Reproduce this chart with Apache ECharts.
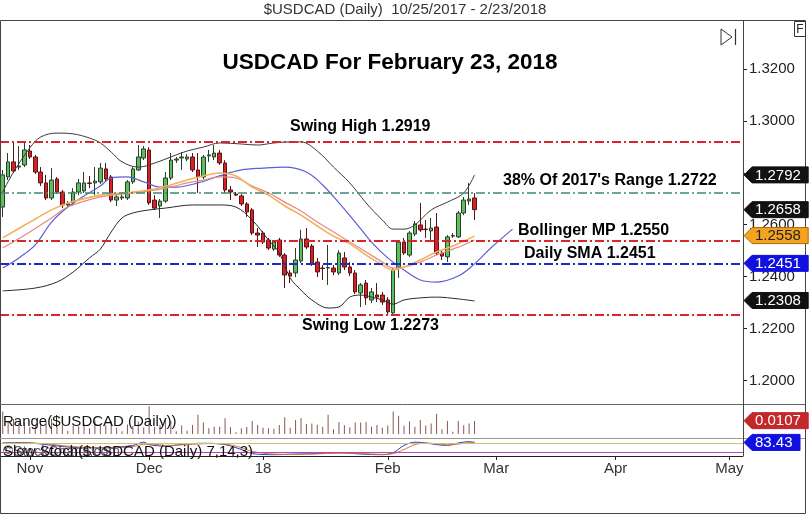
<!DOCTYPE html>
<html><head><meta charset="utf-8">
<script src="https://cdn.jsdelivr.net/npm/echarts@6/dist/echarts.min.js"></script>
<style>html,body{margin:0;padding:0;background:#fff}#c{width:810px;height:515px}</style>
</head><body><div id="c"></div>
<script>
const startDate = [2017, 9, 25];
const nCategories = 137;
const monthLabels = {'2017-11-01':'Nov','2017-12-01':'Dec','2018-01-01':'18','2018-02-01':'Feb','2018-03-01':'Mar','2018-04-02':'Apr','2018-05-01':'May'};
const priceTicks = [1.20,1.22,1.24,1.26,1.28,1.30,1.32];

// [open, close, low, high]
const candles = [
[1.2668,1.2792,1.2630,1.2811],[1.2784,1.2842,1.2772,1.2876],[1.2842,1.2807,1.2799,1.2919],[1.2822,1.2826,1.2811,1.2903],
[1.2830,1.2888,1.2822,1.2915],[1.2884,1.2861,1.2853,1.2907],[1.2861,1.2803,1.2795,1.2869],[1.2803,1.2761,1.2749,1.2822],
[1.2761,1.2703,1.2695,1.2792],[1.2703,1.2772,1.2695,1.2818],[1.2776,1.2726,1.2718,1.2784],[1.2726,1.2676,1.2664,1.2734],
[1.2676,1.2680,1.2664,1.2691],[1.2684,1.2726,1.2676,1.2741],[1.2726,1.2761,1.2714,1.2776],[1.2730,1.2761,1.2722,1.2803],
[1.2761,1.2759,1.2741,1.2788],[1.2761,1.2768,1.2714,1.2822],[1.2765,1.2818,1.2757,1.2838],[1.2815,1.2776,1.2768,1.2838],
[1.2784,1.2695,1.2687,1.2792],[1.2695,1.2707,1.2672,1.2722],[1.2703,1.2707,1.2695,1.2718],[1.2703,1.2765,1.2695,1.2772],
[1.2765,1.2815,1.2757,1.2822],[1.2811,1.2861,1.2807,1.2907],[1.2857,1.2892,1.2849,1.2903],[1.2888,1.2684,1.2676,1.2899],
[1.2695,1.2664,1.2657,1.2714],[1.2672,1.2691,1.2626,1.2699],[1.2691,1.2780,1.2684,1.2803],[1.2780,1.2849,1.2772,1.2876],
[1.2849,1.2853,1.2838,1.2861],[1.2857,1.2861,1.2811,1.2880],[1.2853,1.2861,1.2845,1.2872],[1.2861,1.2811,1.2803,1.2876],
[1.2811,1.2784,1.2722,1.2876],[1.2784,1.2861,1.2776,1.2869],[1.2865,1.2869,1.2842,1.2888],[1.2861,1.2876,1.2849,1.2907],
[1.2876,1.2838,1.2830,1.2888],[1.2838,1.2734,1.2722,1.2849],[1.2734,1.2726,1.2695,1.2749],[1.2718,1.2714,1.2711,1.2726],
[1.2711,1.2680,1.2672,1.2718],[1.2680,1.2649,1.2630,1.2687],[1.2657,1.2568,1.2560,1.2664],[1.2568,1.2560,1.2514,1.2587],
[1.2568,1.2533,1.2526,1.2576],[1.2541,1.2510,1.2502,1.2549],[1.2506,1.2533,1.2499,1.2541],[1.2541,1.2483,1.2476,1.2549],
[1.2483,1.2406,1.2356,1.2491],[1.2414,1.2402,1.2375,1.2425],[1.2414,1.2464,1.2398,1.2510],[1.2460,1.2545,1.2452,1.2580],
[1.2545,1.2514,1.2506,1.2587],[1.2518,1.2449,1.2441,1.2526],[1.2456,1.2418,1.2398,1.2472],[1.2433,1.2431,1.2387,1.2445],
[1.2433,1.2435,1.2368,1.2522],[1.2433,1.2418,1.2406,1.2445],[1.2414,1.2491,1.2406,1.2502],[1.2472,1.2437,1.2425,1.2495],
[1.2437,1.2414,1.2402,1.2456],[1.2414,1.2341,1.2333,1.2425],[1.2337,1.2368,1.2283,1.2375],[1.2375,1.2318,1.2291,1.2387],
[1.2310,1.2341,1.2298,1.2356],[1.2329,1.2321,1.2302,1.2375],[1.2329,1.2302,1.2291,1.2341],[1.2310,1.2264,1.2252,1.2321],
[1.2260,1.2425,1.2252,1.2433],[1.2433,1.2533,1.2395,1.2541],[1.2533,1.2491,1.2483,1.2549],[1.2483,1.2568,1.2476,1.2576],
[1.2564,1.2603,1.2556,1.2614],[1.2599,1.2580,1.2572,1.2684],[1.2583,1.2581,1.2549,1.2618],[1.2576,1.2587,1.2541,1.2626],
[1.2591,1.2491,1.2483,1.2645],[1.2491,1.2479,1.2464,1.2502],[1.2476,1.2553,1.2456,1.2560],[1.2556,1.2558,1.2549,1.2568],
[1.2553,1.2645,1.2549,1.2653],[1.2645,1.2695,1.2637,1.2707],[1.2691,1.2699,1.2676,1.2761],[1.2703,1.2658,1.2618,1.2722]
];

const upperBand = [[0,1.2726],[2,1.2803],[5,1.2896],[7,1.2938],[10,1.2953],[13,1.2950],[16,1.2934],[18,1.2915],[20,1.2880],[22,1.2842],[25,1.2822],[27,1.2830],[31,1.2861],[34,1.2884],[37,1.2899],[40,1.2915],[44,1.2911],[47,1.2907],[50,1.2915],[53,1.2919],[55,1.2919],[58,1.2884],[61,1.2822],[64,1.2761],[67,1.2684],[70,1.2618],[72,1.2583],[74,1.2583],[76,1.2599],[79,1.2657],[82,1.2687],[85,1.2722],[87,1.2792]];
const lowerBand = [[0,1.2345],[6,1.2356],[10,1.2379],[13,1.2418],[16,1.2472],[18,1.2506],[20,1.2572],[22,1.2626],[24,1.2645],[27,1.2657],[30,1.2664],[35,1.2676],[40,1.2676],[43,1.2668],[46,1.2618],[49,1.2541],[51,1.2491],[53,1.2395],[55,1.2348],[57,1.2310],[60,1.2279],[62,1.2283],[64,1.2321],[66,1.2329],[68,1.2321],[70,1.2310],[72,1.2294],[74,1.2310],[77,1.2318],[80,1.2321],[84,1.2314],[87,1.2306]];
const blueLine = [[0,1.2433],[3,1.2472],[6,1.2522],[9,1.2610],[12,1.2668],[15,1.2711],[18,1.2749],[20,1.2780],[23,1.2784],[26,1.2765],[29,1.2745],[32,1.2745],[36,1.2761],[40,1.2788],[44,1.2811],[48,1.2818],[52,1.2822],[56,1.2803],[59,1.2753],[62,1.2684],[65,1.2610],[68,1.2533],[71,1.2472],[74,1.2425],[77,1.2387],[80,1.2379],[84,1.2402],[87,1.2449],[90,1.2510],[94,1.2583]];
const orangeLine = [[0,1.2549],[5,1.2610],[9,1.2657],[12,1.2684],[18,1.2714],[22,1.2722],[27,1.2734],[31,1.2753],[34,1.2772],[37,1.2788],[40,1.2799],[43,1.2788],[46,1.2745],[49,1.2714],[52,1.2672],[55,1.2637],[58,1.2595],[61,1.2556],[64,1.2526],[67,1.2483],[70,1.2445],[72,1.2425],[74,1.2437],[77,1.2464],[80,1.2495],[83,1.2518],[85,1.2537],[87,1.2556]];
const pinkLine = [[0,1.2510],[5,1.2572],[9,1.2626],[12,1.2668],[18,1.2707],[22,1.2718],[27,1.2730],[31,1.2745],[34,1.2761],[37,1.2772],[40,1.2784],[43,1.2780],[46,1.2749],[49,1.2722],[52,1.2687],[55,1.2653],[58,1.2610],[61,1.2572],[64,1.2533],[67,1.2495],[70,1.2456],[72,1.2433],[74,1.2437],[77,1.2456],[80,1.2483],[83,1.2506],[85,1.2522],[87,1.2541]];
const stochK = [[0,80],[4,82],[8,70],[12,55],[16,50],[20,52],[24,65],[26,85],[27,70],[30,60],[34,75],[38,78],[41,70],[44,40],[46,15],[50,8],[54,12],[58,15],[62,20],[66,12],[70,8],[72,20],[74,65],[76,85],[78,80],[80,70],[82,65],[84,80],[86,88],[87,83.43]];
const stochD = [[0,78],[4,80],[8,75],[12,60],[16,52],[20,50],[24,58],[26,72],[28,72],[30,65],[34,70],[38,76],[41,73],[44,52],[46,28],[50,12],[54,10],[58,13],[62,17],[66,15],[70,10],[72,14],[74,40],[76,70],[78,80],[80,75],[82,68],[84,73],[86,82],[87,84]];

const levelValues = [1.2919, 1.2724, 1.2540, 1.2449, 1.2252];
const levelColors = ['#d8262c','#3f8a6e','#d8262c','#1b2ec4','#d8262c'];
const annotations = [
  ['USDCAD For February 23, 2018', 390, 63, 'title'],
  ['Swing High 1.2919', 290, 127, 'note'],
  ["38% Of 2017's Range 1.2722", 503, 181, 'note'],
  ['Bollinger MP 1.2550', 518, 231, 'note'],
  ['Daily SMA 1.2451', 524, 254, 'note'],
  ['Swing Low 1.2273', 302, 326, 'note']
];
const priceTags = [[1.2792,'#111','#fff'],[1.2658,'#111','#fff'],[1.2558,'#f5a31f','#222'],[1.2451,'#1010e0','#fff'],[1.2308,'#111','#fff']];
const rangeTag = [0.0107,'#c3282b','#fff'];
const stochTag = [83.43,'#1010e0','#fff'];

const FONT = '"Liberation Sans", Arial, Helvetica, sans-serif';
const categories = [];
(function(){ const d = new Date(Date.UTC(startDate[0],startDate[1],startDate[2]));
  while (categories.length < nCategories) { const w = d.getUTCDay(); if (w !== 0 && w !== 6) categories.push(d.toISOString().slice(0,10)); d.setUTCDate(d.getUTCDate()+1); } })();
const rangeValues = candles.map(c => +(c[3]-c[2]).toFixed(4));
const isTick = (i, v) => Object.prototype.hasOwnProperty.call(monthLabels, v);

const chart = echarts.init(document.getElementById('c'));
const lineS = (data, color, width) => ({type:'line', data, xAxisIndex:0, yAxisIndex:0, smooth:0.35, showSymbol:false, symbol:'none', silent:true, lineStyle:{color, width}, z:3});
const dashDot = [9,3,2,3];
chart.setOption({
  animation:false, backgroundColor:'#fff',
  grid:[{left:0,width:743,top:17.1,height:389.25},{left:0,width:743,top:404,height:30},{left:0,width:743,top:439.7,height:16.3}],
  xAxis:[0,1,2].map(g => ({type:'category', gridIndex:g, data:categories, boundaryGap:true,
    axisLine:{show:g===2, lineStyle:{color:'#222',width:1}},
    axisTick:{show:g===2, interval:isTick, alignWithLabel:true, length:4, lineStyle:{color:'#222'}},
    axisLabel:{show:g===2, interval:isTick, formatter:v => monthLabels[v] || '', color:'#333', fontSize:15, fontFamily:FONT, margin:5},
    splitLine:{show:false}})),
  yAxis:[
    {type:'value', gridIndex:0, position:'right', min:1.19, max:1.34, axisLine:{show:false}, splitLine:{show:false},
     axisTick:{show:true, length:4, customValues:priceTicks, lineStyle:{color:'#222'}},
     axisLabel:{customValues:priceTicks, formatter:v => Number(v).toFixed(4), color:'#222', fontSize:15, fontFamily:FONT, margin:6}},
    {type:'value', gridIndex:1, min:0, max:0.024, show:false, splitLine:{show:false}},
    {type:'value', gridIndex:2, min:0, max:100, show:false, splitLine:{show:false}}
  ],
  series:[
    {type:'candlestick', data:candles, xAxisIndex:0, yAxisIndex:0, barWidth:4, silent:true, z:2,
     itemStyle:{color:'#5cbf5c', color0:'#d42228', borderColor:'#2b3d2b', borderColor0:'#5a1414', borderWidth:1},
     markLine:{silent:true, precision:4, symbol:['none','none'], label:{show:false}, animation:false,
       data:levelValues.map((v,i) => ({yAxis:v, lineStyle:{color:levelColors[i], width:i===1?1.6:2, type:dashDot}}))}},
    lineS(upperBand,'#3a3a3a',1), lineS(lowerBand,'#2a2a2a',1), lineS(blueLine,'#5b5fd8',1.2),
    lineS(pinkLine,'#e58a86',1.2), lineS(orangeLine,'#f2b05a',1.6),
    {type:'bar', data:rangeValues, xAxisIndex:1, yAxisIndex:1, barWidth:1, silent:true, itemStyle:{color:'#8a5656'}},
    {type:'line', data:stochK, xAxisIndex:2, yAxisIndex:2, smooth:0.3, showSymbol:false, symbol:'none', silent:true, lineStyle:{color:'#2c3cc4',width:1},
     markLine:{silent:true, precision:2, symbol:['none','none'], label:{show:false},
       data:[{yAxis:80, lineStyle:{color:'#c9c27a',width:1,type:'solid'}},{yAxis:20, lineStyle:{color:'#c040c0',width:1,type:'solid'}}]}},
    {type:'line', data:stochD, xAxisIndex:2, yAxisIndex:2, smooth:0.3, showSymbol:false, symbol:'none', silent:true, lineStyle:{color:'#d2782e',width:1}}
  ]
});

function tag(y, text, fill, textColor){
  const x0 = 744, w = text.length * 8.2 + 15, h = 8;
  return {type:'group', z:100, children:[
    {type:'polygon', z:100, shape:{points:[[x0,y],[x0+8,y-h],[x0+w,y-h],[x0+w,y+h],[x0+8,y+h]]}, style:{fill, stroke:fill==='#f5a31f'?'#a8680c':fill, lineWidth:1}},
    {type:'text', z:101, style:{text, x:x0+11, y:y+0.5, font:'15px '+FONT, fill:textColor, align:'left', verticalAlign:'middle', textAlign:'left', textVerticalAlign:'middle'}}]};
}
const g = [];
g.push({type:'rect', z:90, shape:{x:0.5,y:20.5,width:805,height:493}, style:{fill:'none', stroke:'#444', lineWidth:1}});
g.push({type:'line', z:90, shape:{x1:0,y1:404.5,x2:805,y2:404.5}, style:{stroke:'#666', lineWidth:1}});
g.push({type:'line', z:90, shape:{x1:0,y1:438.5,x2:805,y2:438.5}, style:{stroke:'#999', lineWidth:1}});
g.push({type:'line', z:90, shape:{x1:743.5,y1:20,x2:743.5,y2:456}, style:{stroke:'#444', lineWidth:1}});
g.push({type:'text', z:90, style:{text:'$USDCAD (Daily)  10/25/2017 - 2/23/2018', x:405, y:10, font:'15px "Liberation Sans Narrow", "Arial Narrow", '+FONT, fill:'#333', align:'center', verticalAlign:'middle', textAlign:'center', textVerticalAlign:'middle'}});
annotations.forEach(a => {
  const isTitle = a[3] === 'title';
  g.push({type:'text', z:95, style:{text:a[0], x:a[1], y:a[2], font:(isTitle?'bold 22.5px ':'bold 16px ')+FONT, fill:'#000', align:isTitle?'center':'left', verticalAlign:'middle', textAlign:isTitle?'center':'left', textVerticalAlign:'middle'}});
});
g.push({type:'polygon', z:90, shape:{points:[[721,29],[732,37],[721,45]]}, style:{fill:'none', stroke:'#333', lineWidth:1}});
g.push({type:'line', z:90, shape:{x1:735.5,y1:29,x2:735.5,y2:45}, style:{stroke:'#333', lineWidth:1.2}});
g.push({type:'rect', z:90, shape:{x:794.5,y:21.5,width:11,height:15}, style:{fill:'#fff', stroke:'#333', lineWidth:1}});
g.push({type:'text', z:91, style:{text:'F', x:800, y:29.5, font:'12px '+FONT, fill:'#222', align:'center', verticalAlign:'middle', textAlign:'center', textVerticalAlign:'middle'}});
g.push({type:'text', z:95, style:{text:'Range($USDCAD (Daily))', x:3, y:422, font:'15px '+FONT, fill:'#111', align:'left', verticalAlign:'middle', textAlign:'left', textVerticalAlign:'middle'}});
g.push({type:'text', z:95, style:{text:'\u00a9StockCharts.com', x:3, y:452, font:'14px '+FONT, fill:'#555', align:'left', verticalAlign:'middle', textAlign:'left', textVerticalAlign:'middle'}});
g.push({type:'text', z:95, style:{text:'Slow Stoch($USDCAD (Daily) 7,14,3)', x:3, y:452, font:'15px '+FONT, fill:'#111', align:'left', verticalAlign:'middle', textAlign:'left', textVerticalAlign:'middle'}});
priceTags.forEach(t => g.push(tag(chart.convertToPixel({yAxisIndex:0}, t[0]), t[0].toFixed(4), t[1], t[2])));
g.push(tag(chart.convertToPixel({yAxisIndex:1}, rangeTag[0]), rangeTag[0].toFixed(4), rangeTag[1], rangeTag[2]));
g.push(tag(chart.convertToPixel({yAxisIndex:2}, stochTag[0]), stochTag[0].toFixed(2), stochTag[1], stochTag[2]));
chart.setOption({graphic:g});
</script></body></html>
